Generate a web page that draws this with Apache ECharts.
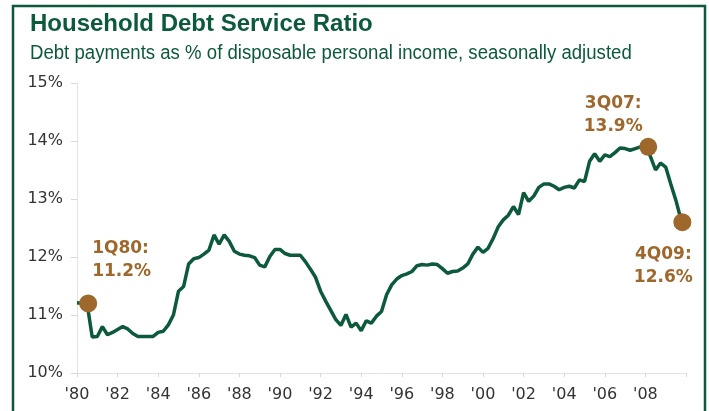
<!DOCTYPE html>
<html><head><meta charset="utf-8">
<script src="https://cdn.jsdelivr.net/npm/echarts@6/dist/echarts.min.js"></script>
<style>html,body{margin:0;padding:0;background:#fff}#c{width:709px;height:411px}</style>
</head><body><div id="c"></div>
<script>
// Quarterly household debt service ratio, 1Q80 .. 4Q09 (%)
const startYear = 1980;
const dsr = [
 11.21,11.20,11.19,10.62,10.63,10.80,10.66,10.70,10.75,10.80,
 10.76,10.68,10.63,10.63,10.63,10.63,10.70,10.72,10.83,11.00,
 11.41,11.49,11.88,11.97,11.99,12.05,12.12,12.38,12.22,12.38,
 12.27,12.10,12.05,12.03,12.02,11.99,11.86,11.83,12.01,12.13,
 12.13,12.06,12.03,12.03,12.03,11.92,11.79,11.65,11.41,11.24,
 11.08,10.92,10.82,11.01,10.79,10.86,10.73,10.90,10.86,10.98,
 11.06,11.35,11.52,11.62,11.68,11.71,11.75,11.85,11.87,11.86,
 11.88,11.87,11.80,11.72,11.75,11.76,11.81,11.88,12.05,12.17,
 12.08,12.15,12.32,12.52,12.64,12.72,12.87,12.73,13.11,12.96,
 13.05,13.20,13.26,13.26,13.22,13.16,13.20,13.22,13.19,13.33,
 13.30,13.65,13.78,13.65,13.76,13.73,13.80,13.88,13.87,13.84,
 13.87,13.90,13.93,13.73,13.50,13.62,13.55,13.26,12.98,12.65
];
const yTicks = [10, 11, 12, 13, 14, 15];
const xTickYears = [1980,1982,1984,1986,1988,1990,1992,1994,1996,1998,2000,2002,2004,2006,2008,2010];
const annLabels = ['1Q80:\n11.2%', '3Q07:\n13.9%', '4Q09:\n12.6%'];
const annX = [1980.55, 2008.14, 2009.82];
const annValues = [11.2, 13.9, 12.6];

const green = '#0c5a3b';
const brown = '#9e672c';
const seriesData = dsr.map((v, i) => [startYear + i / 4, v]);

const annOffsets = [[4, -43], [-35, -32], [-19, 44]];
const annAlign = ['left', 'center', 'center'];

const chart = echarts.init(document.getElementById('c'), null, {renderer: 'canvas'});
chart.setOption({
  animation: false,
  backgroundColor: '#fff',
  graphic: [
    {type: 'rect', shape: {x: 13, y: 6, width: 692, height: 420},
     style: {fill: 'none', stroke: green, lineWidth: 2.5}},
    {type: 'text', x: 30, y: 12,
     style: {text: 'Household Debt Service Ratio', fill: green,
       font: 'bold 24px "Liberation Sans", Arial, sans-serif'}},
    {type: 'text', x: 30, y: 43, scaleX: 0.93,
     style: {text: 'Debt payments as % of disposable personal income, seasonally adjusted', fill: green,
       font: '20px "Liberation Sans", Arial, sans-serif'}}
  ],
  grid: {left: 77, right: 23, top: 83, bottom: 38, containLabel: false},
  xAxis: {
    type: 'value', min: 1980, max: 2010, interval: 2,
    axisLine: {show: true, lineStyle: {color: '#e2e2e2', width: 1}},
    axisTick: {show: true, length: 4, lineStyle: {color: '#d8d8d8'}},
    splitLine: {show: false},
    axisLabel: {
      margin: 14, color: '#333', fontSize: 16, fontFamily: '"DejaVu Sans"',
      formatter: v => (xTickYears.indexOf(v) >= 0 && v < 2010) ? "'" + String(v).slice(2) : ''
    }
  },
  yAxis: {
    type: 'value', min: 10, max: 15, interval: 1,
    axisLine: {show: true, lineStyle: {color: '#e2e2e2', width: 1}},
    axisTick: {show: true, length: 6, lineStyle: {color: '#d8d8d8'}},
    splitLine: {show: false},
    axisLabel: {
      margin: 14, color: '#333', fontSize: 16, fontFamily: '"DejaVu Sans"',
      formatter: v => yTicks.indexOf(v) >= 0 ? v + '%' : ''
    }
  },
  series: [{
    type: 'line', data: seriesData, showSymbol: false, smooth: false,
    lineStyle: {color: green, width: 3.5},
    markPoint: {
      symbol: 'circle', symbolSize: 18,
      itemStyle: {color: brown},
      data: annLabels.map((t, i) => ({
        coord: [annX[i], annValues[i]],
        label: {
          show: true, formatter: t, position: 'inside',
          offset: annOffsets[i], align: annAlign[i], verticalAlign: 'middle',
          color: brown, fontWeight: 'bold', fontSize: 17, lineHeight: 23,
          fontFamily: '"DejaVu Sans"'
        }
      }))
    }
  }]
});
</script></body></html>
